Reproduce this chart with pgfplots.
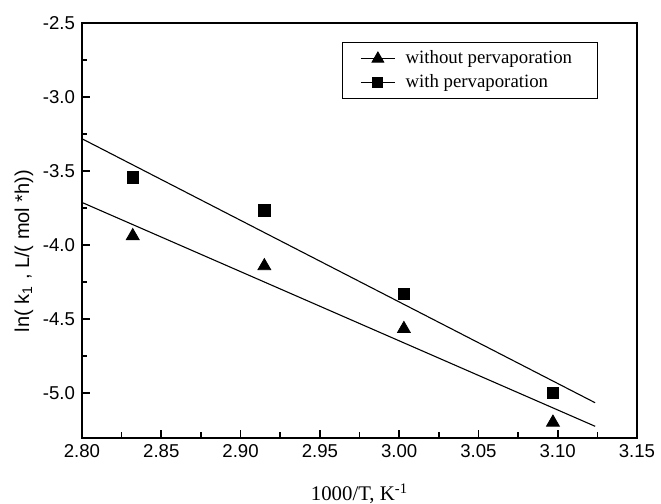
\documentclass[border=0pt]{standalone}
\usepackage{fontspec}
\setmainfont{Liberation Serif}
\setsansfont{Liberation Sans}
\usepackage{pgfplots}
\usepackage{pgfplotstable}
\pgfplotsset{compat=1.18}

% ln(k1) against 1000/T
\pgfplotstableread{
x      y
2.832  -3.938
2.915  -4.141
3.003  -4.565
3.097  -5.197
}\withoutpv
\pgfplotstableread{
x      y
2.832  -3.543
2.915  -3.764
3.003  -4.330
3.097  -4.997
}\withpv
% straight-line fits
\pgfplotstableread{
x      y
2.800  -3.712
3.1236 -5.223
}\fitwithout
\pgfplotstableread{
x      y
2.800  -3.282
3.1236 -5.064
}\fitwith

\begin{document}
\begin{tikzpicture}
\begin{axis}[
  at={(0,0)}, anchor=south west,
  scale only axis, width=277.5pt, height=207.4pt,
  xmin=2.80, xmax=3.15, ymin=-5.3, ymax=-2.5,
  xtick={2.80,2.85,2.90,2.95,3.00,3.05,3.10,3.15},
  ytick={-5.0,-4.5,-4.0,-3.5,-3.0,-2.5},
  minor x tick num=1, minor y tick num=1,
  tick align=inside, xtick pos=bottom, ytick pos=left,
  major tick length=4pt, minor tick length=2.6pt,
  axis line style={line width=0.9pt},
  every tick/.style={line width=0.8pt, black},
  /pgf/number format/assume math mode=true,
  ticklabel style={font=\sffamily\fontsize{9.3}{11}\selectfont},
  xticklabel style={/pgf/number format/.cd, fixed, fixed zerofill, precision=2},
  yticklabel style={/pgf/number format/.cd, fixed, fixed zerofill, precision=1},
  xlabel={1000/T, K\textsuperscript{-1}},
  xlabel style={font=\fontsize{10.4}{12}\selectfont, at={(axis description cs:0.5,-0.136)}, anchor=center},
  ylabel={ln( k\textsubscript{1} , L/( mol *h))},
  ylabel style={font=\sffamily\fontsize{10}{12}\selectfont, at={(axis description cs:-0.1045,0.45)}, anchor=center, rotate=0},
  legend style={at={(axis description cs:0.468,0.9535)}, anchor=north west,
    draw=black, line width=0.5pt, font=\fontsize{9.4}{12.5}\selectfont,
    inner xsep=9pt, inner ysep=2pt, row sep=0pt},
  legend cell align=left,
]
\addplot[black, line width=0.55pt, forget plot] table[x=x, y=y] {\fitwithout};
\addplot[black, line width=0.55pt, forget plot] table[x=x, y=y] {\fitwith};

\addplot[only marks, mark=triangle*, mark size=3.7pt, black, mark options={fill=black},
  legend image code/.code={
    \draw[black, line width=0.6pt] (0cm,0cm) -- (0.6cm,0cm);
    \draw[black, mark=triangle*, mark size=3.3pt, mark options={fill=black}] plot coordinates {(0.3cm,0cm)};
  }] table[x=x, y=y] {\withoutpv};
\addlegendentry{\makebox[88pt][l]{\kern3pt without pervaporation}}

\addplot[only marks, mark=square*, mark size=2.9pt, black, mark options={fill=black},
  legend image code/.code={
    \draw[black, line width=0.6pt] (0cm,0cm) -- (0.6cm,0cm);
    \draw[black, mark=square*, mark size=2.5pt, mark options={fill=black}] plot coordinates {(0.3cm,0cm)};
  }] table[x=x, y=y] {\withpv};
\addlegendentry{\makebox[88pt][l]{\kern3pt with pervaporation}}
\end{axis}
\pgfresetboundingbox
\useasboundingbox (-41pt,-33.15pt) rectangle (289.5pt,218.85pt);
\end{tikzpicture}
\end{document}
